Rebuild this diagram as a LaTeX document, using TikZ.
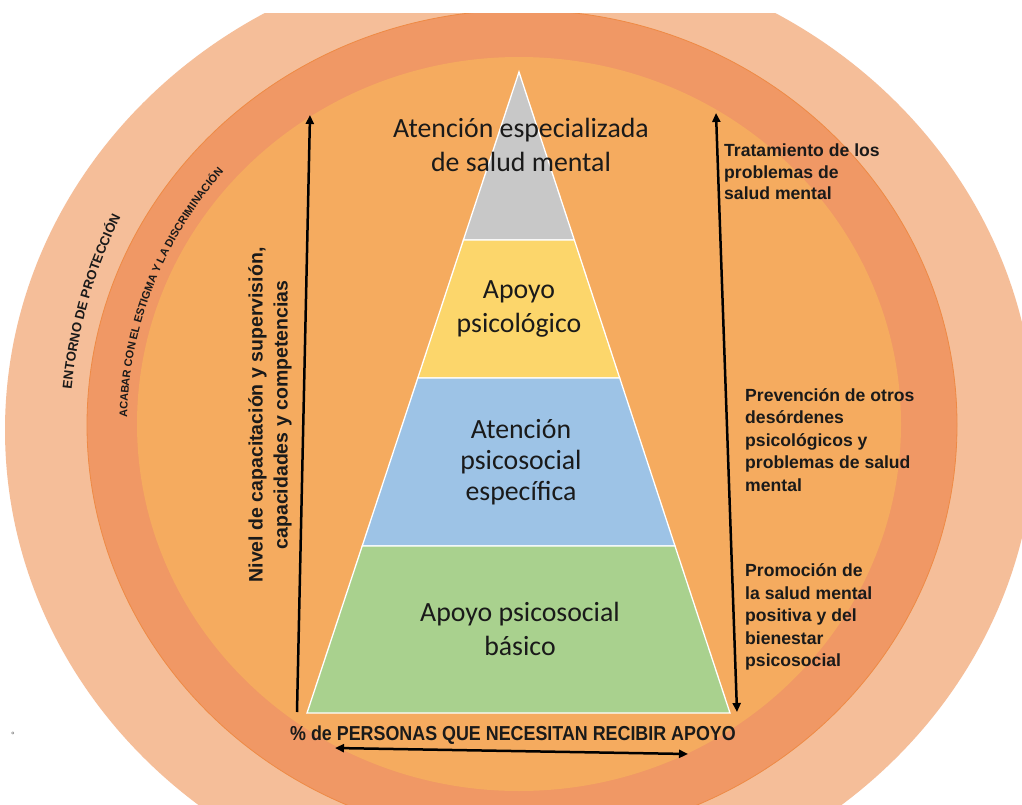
\documentclass[tikz,border=0pt]{standalone}
\usepackage{fontspec}
\setmainfont{Carlito}
\newfontfamily\arialf{Liberation Sans}
\usetikzlibrary{arrows.meta,decorations.text}

\definecolor{ringout}{HTML}{F5BE99}
\definecolor{ringmid}{HTML}{F09865}
\definecolor{ringin}{HTML}{F5AB5F}
\definecolor{ringline}{HTML}{EE8A45}
\definecolor{lvgrey}{HTML}{C8C8C8}
\definecolor{lvyellow}{HTML}{FCD66B}
\definecolor{lvblue}{HTML}{9DC3E6}
\definecolor{lvgreen}{HTML}{A9D18E}
\definecolor{ink}{HTML}{1A1A1A}

\begin{document}
\begin{tikzpicture}[x=1pt,y=-1pt,
  layer/.style={draw=white,line width=1.3pt,line join=miter},
  lvtext/.style={font=\fontsize{27.8}{34}\selectfont,text=ink,align=center,inner sep=0pt},
  arr/.style={line width=2.5pt,-{Triangle[length=9pt,width=8pt]}},
  darr/.style={line width=2.5pt,{Triangle[length=9pt,width=8pt]}-{Triangle[length=9pt,width=8pt]}},
  ringlabel/.style={decorate,decoration={text along path,text align=center,text color=ink}}
]
\useasboundingbox (0,0) rectangle (1022,805);
\fill[white] (0,0) rectangle (1022,805);

% nested rings, cut off along the top edge
\begin{scope}
  \clip (0,14) rectangle (1022,805);
  \fill[ringout] (520,430) ellipse [x radius=515pt, y radius=480pt];
  \filldraw[fill=ringmid, draw=ringline, line width=0.8pt] (522,425) ellipse [x radius=435pt, y radius=415pt];
  \fill[ringin] (519,424) ellipse [x radius=382pt, y radius=367pt];
\end{scope}

% labels following the rings
\begin{scope}[shift={(521,440)}]
  \path[ringlabel, decoration={text={|\arialf\bfseries\fontsize{13.2}{13.2}\selectfont|ENTORNO DE PROTECCIÓN}}]
    (187:452pt and 480pt) arc[start angle=187, end angle=139, x radius=452pt, y radius=480pt];
\end{scope}
\begin{scope}[shift={(520,425)}]
  \path[ringlabel, decoration={text={|\arialf\bfseries\fontsize{11}{11}\selectfont|ACABAR  CON  EL ESTIGMA Y LA DISCRIMINACIÓN}}]
    (191:393pt and 385pt) arc[start angle=191, end angle=127, x radius=393pt, y radius=385pt];
\end{scope}

% pyramid
\coordinate (apex) at (519,72);
\coordinate (bl) at (307,713);
\coordinate (br) at (730,713);
\coordinate (g1l) at (463.4,240);
\coordinate (g1r) at (574.3,240);
\coordinate (g2l) at (417.8,378);
\coordinate (g2r) at (619.7,378);
\coordinate (g3l) at (362.2,546);
\coordinate (g3r) at (675.0,546);

\filldraw[layer, fill=lvgrey] (apex) -- (g1r) -- (g1l) -- cycle;
\filldraw[layer, fill=lvyellow] (g1l) -- (g1r) -- (g2r) -- (g2l) -- cycle;
\filldraw[layer, fill=lvblue] (g2l) -- (g2r) -- (g3r) -- (g3l) -- cycle;
\filldraw[layer, fill=lvgreen] (g3l) -- (g3r) -- (br) -- (bl) -- cycle;

\node[lvtext] (t1) at (521,145) {Atención especializada\\de salud mental};
\node[lvtext] (t2) at (519,309) {Apoyo\\psicológico};
\node[lvtext, font=\fontsize{27.8}{31}\selectfont] (t3) at (521,462) {Atención\\psicosocial\\específica};
\node[lvtext] (t4) at (520,629) {Apoyo psicosocial\\básico};

% side descriptions
\node[font=\arialf\bfseries\fontsize{17.6}{21.5}\selectfont, align=left, anchor=west, inner sep=0pt, text=ink]
  (s1) at (724,172) {Tratamiento de los\\problemas de\\salud mental};
\node[font=\arialf\bfseries\fontsize{17.6}{22.5}\selectfont, align=left, anchor=west, inner sep=0pt, text=ink]
  (s2) at (745,440) {Prevención de otros\\desórdenes\\psicológicos y\\problemas de salud\\mental};
\node[font=\arialf\bfseries\fontsize{17.6}{22.5}\selectfont, align=left, anchor=west, inner sep=0pt, text=ink]
  (s3) at (745,617) {Promoción de\\la salud mental\\positiva y del\\bienestar\\psicosocial};

\node[font=\arialf\bfseries\fontsize{19.5}{25}\selectfont, rotate=90, align=center, inner sep=0pt, text=ink]
  (lv) at (270,415) {Nivel de capacitación y supervisión,\\capacidades y competencias};

\node[font=\arialf\bfseries\fontsize{20.2}{22}\selectfont, inner sep=0pt, text=ink]
  (pct) at (513,735) {\scalebox{0.885}[1]{\% de PERSONAS QUE NECESITAN RECIBIR APOYO}};

\node[font=\arialf\fontsize{9}{9}\selectfont, text=ink!70, inner sep=0pt] (deg) at (13,735) {°};

% arrows
\coordinate (la0) at (297,712);
\coordinate (la1) at (310,115);
\draw[arr] (la0) -- (la1);
\coordinate (ra0) at (716,113);
\coordinate (ra1) at (737,712);
\draw[darr] (ra0) -- (ra1);
\coordinate (ba0) at (335,748);
\coordinate (ba1) at (688,754);
\draw[darr] (ba0) -- (ba1);
\end{tikzpicture}
\end{document}
